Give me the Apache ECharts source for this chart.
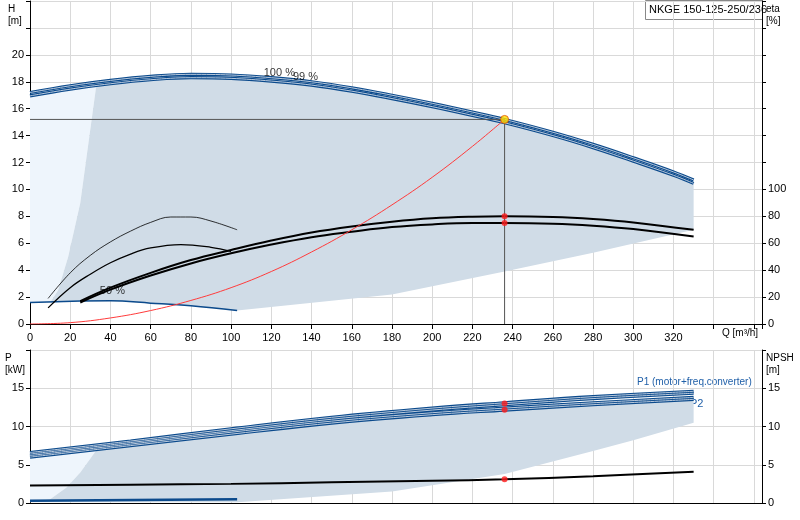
<!DOCTYPE html>
<html><head><meta charset="utf-8">
<script src="https://cdn.jsdelivr.net/npm/echarts@6/dist/echarts.min.js"></script>
<style>body{margin:0}#c{width:800px;height:520px}</style></head>
<body><div id="c"></div>
<script>
// ---- data ----
const head100 = [[0,17.2],[20,17.7],[40,18.1],[60,18.4],[80,18.55],[100,18.5],[120,18.3],[140,18.0],[160,17.55],[180,17.0],[200,16.4],[220,15.75],[236,15.2],[260,14.25],[280,13.35],[300,12.35],[320,11.3],[330,10.7]];
const head99 = [[0,16.95],[20,17.45],[40,17.85],[60,18.15],[80,18.3],[100,18.25],[120,18.05],[140,17.75],[160,17.3],[180,16.75],[200,16.15],[220,15.5],[236,14.95],[260,14.0],[280,13.1],[300,12.1],[320,11.05],[330,10.45]];
const headMin = [[0,1.6],[25,1.7],[40,1.72],[60,1.55],[80,1.35],[103,1.0]];
const lightArea = [[0,16.95],[20,17.45],[33,17.75],[25,9],[19,5],[14,2.5],[10,1.6],[0,1.6]];
const darkArea = [[33,17.75],[40,17.85],[60,18.15],[80,18.3],[100,18.25],[120,18.05],[140,17.75],[160,17.3],[180,16.75],[200,16.15],[220,15.5],[236,14.95],[260,14.0],[280,13.1],[300,12.1],[320,11.05],[330,10.45],[330,7.0],[280,5.3],[236,3.9],[180,2.2],[103,1.0],[80,1.35],[60,1.55],[40,1.72],[25,1.7],[10,1.6],[14,2.5],[19,5],[25,9]];
const eta100 = [[25,17],[40,27],[60,38],[80,47.5],[100,55],[120,62],[140,68],[160,72.5],[180,76],[200,78.5],[220,79.7],[236,80],[260,79.5],[280,78],[300,75.5],[330,70]];
const eta99 = [[25,16],[40,25.5],[60,36],[80,45],[100,52.5],[120,59],[140,64.5],[160,68.5],[180,72],[200,74],[220,75],[236,75],[260,74.5],[280,73],[300,70.5],[330,65]];
const etaLowA = [[9,19],[20,38],[30,51],[40,61],[50,69],[60,75.5],[70,79.5],[80,79.5],[90,76.5],[103,70]];
const etaLowB = [[9,12],[20,27],[30,37],[40,45.5],[50,52],[60,56.5],[75,59],[90,57],[100,54]];
const systemCurve = [[0,0],[20,0.1],[40,0.45],[60,1.0],[80,1.75],[100,2.7],[120,3.9],[140,5.35],[160,7.0],[180,8.85],[200,10.9],[220,13.2],[236,15.2]];
const dutyQ = 236, dutyH = 15.2, dutyEta = [80,75];
const p1 = [[0,6.6],[50,8.1],[100,9.7],[150,11.2],[200,12.4],[236,13.1],[280,13.9],[330,14.6]];
const p1b = [[0,6.4],[50,7.9],[100,9.45],[150,10.95],[200,12.15],[236,12.85],[280,13.65],[330,14.35]];
const p2 = [[0,6.2],[50,7.7],[100,9.25],[150,10.7],[200,11.8],[236,12.4],[280,13.1],[330,13.8]];
const p2b = [[0,6.0],[50,7.5],[100,9.0],[150,10.45],[200,11.55],[236,12.15],[280,12.85],[330,13.55]];
const pMin = [[0,0.3],[103,0.5]];
const pLight = [[0,6.0],[33,6.9],[25,4],[18,2],[10,0.5],[0,0.1]];
const pDark = [[33,6.9],[50,7.5],[100,9.0],[150,10.45],[200,11.55],[236,12.15],[280,12.85],[330,13.55],[330,10.5],[300,8.2],[280,6.8],[236,3.8],[180,1.5],[103,0.1],[0,0.1],[10,0.5],[18,2],[25,4]];
const npsh = [[0,2.3],[50,2.4],[100,2.5],[150,2.7],[200,2.9],[236,3.1],[280,3.5],[330,4.1]];
const dutyP = [13.0,12.2], dutyNpsh = 3.1;
const title = 'NKGE 150-125-250/236';

// ---- chart ----
const F = 'Liberation Sans, Arial, sans-serif';
const ch = echarts.init(document.getElementById('c'));
const grid = '#d9d9d9';
function poly(pts, color, xi, yi){
  return {type:'custom', xAxisIndex:xi, yAxisIndex:yi, silent:true, z:1,
    data:[pts[0]],
    renderItem:(p,api)=>({type:'polygon', shape:{points:pts.map(d=>api.coord(d))}, style:{fill:color}})};
}
function ln(d,color,w,xi,yi,z){return {type:'line',data:d,xAxisIndex:xi,yAxisIndex:yi,symbol:'none',smooth:0.4,lineStyle:{color:color,width:w},z:z||3,silent:true};}
function dbl(d,xi,yi){return [ln(d,'#0b4a8c',3.2,xi,yi,3), ln(d,'#b9c9dc',1,xi,yi,4)];}
const xAx = (gi,lab)=>({type:'value',gridIndex:gi,min:0,max:364,interval:20,
  axisLine:{show:true,lineStyle:{color:'#000'}},axisTick:{show:lab,lineStyle:{color:'#000'}},
  splitLine:{show:true,lineStyle:{color:grid}},
  axisLabel:{show:lab,color:'#000',fontFamily:F,fontSize:11,formatter:v=>v<=320?v:''}});
const yAx = (gi,max,iv,lim,pos)=>({type:'value',gridIndex:gi,min:0,max:max,interval:iv,position:pos,
  axisLine:{show:true,lineStyle:{color:'#000'}},axisTick:{show:true,length:4,lineStyle:{color:'#000'}},
  splitLine:{show:pos==='left',lineStyle:{color:grid}},
  axisLabel:{color:'#000',fontFamily:F,fontSize:11,margin:pos==='left'?6:6,formatter:v=>v<=lim?v:''}});
ch.setOption({
  animation:false,
  grid:[{left:30,right:38,top:1,bottom:196},{left:30,right:38,top:350,bottom:17}],
  xAxis:[xAx(0,true),xAx(1,false)],
  yAxis:[yAx(0,24,2,20,'left'),yAx(0,240,20,100,'right'),yAx(1,20,5,15,'left'),yAx(1,20,5,15,'right')],
  graphic:[
    {type:'text',left:8,top:3,style:{text:'H\n[m]',fill:'#000',font:'10px '+F,align:'center',lineHeight:12},x:0},
    {type:'text',left:766,top:3,style:{text:'eta\n[%]',fill:'#000',font:'10px '+F,lineHeight:12}},
    {type:'text',left:722,top:328,style:{text:'Q [m³/h]',fill:'#000',font:'10px '+F}},
    {type:'text',left:5,top:352,style:{text:'P\n[kW]',fill:'#000',font:'10px '+F,lineHeight:12}},
    {type:'text',left:766,top:352,style:{text:'NPSH\n[m]',fill:'#000',font:'10px '+F,lineHeight:12}},
    {type:'rect',left:645,top:0,shape:{width:117,height:19},style:{fill:'#fff',stroke:'#888'}},
    {type:'text',left:649,top:4,style:{text:title,fill:'#000',font:'11px '+F}},
    {type:'text',left:637,top:377,style:{text:'P1 (motor+freq.converter)',fill:'#1f5fa8',font:'10px '+F}},
    {type:'text',left:690,top:398,style:{text:'P2',fill:'#1f5fa8',font:'11px '+F}}
  ],
  series:[
    poly(lightArea,'#eef5fc',0,0), poly(darkArea,'#d0dce7',0,0),
    ...dbl(head100,0,0), ...dbl(head99,0,0),
    ln(headMin,'#0b4a8c',1.5,0,0),
    ln(eta100,'#000',2,0,1), ln(eta99,'#000',2,0,1),
    ln(etaLowA,'#000',0.8,0,1), ln(etaLowB,'#000',1.3,0,1),
    ln(systemCurve,'#ff3b3b',1,0,0,5),
    {type:'line',xAxisIndex:0,yAxisIndex:0,data:[[0,dutyH],[dutyQ,dutyH],[dutyQ,0]],symbol:'none',lineStyle:{color:'#555',width:1},z:5},
    {type:'scatter',xAxisIndex:0,yAxisIndex:0,data:[[dutyQ,dutyH]],symbolSize:8,itemStyle:{color:'#ffe000',borderColor:'#e05000',borderWidth:1},z:8},
    {type:'scatter',xAxisIndex:0,yAxisIndex:1,data:dutyEta.map(v=>[dutyQ,v]),symbolSize:6,itemStyle:{color:'#ff1a1a'},z:8},
    {type:'line',xAxisIndex:0,yAxisIndex:0,data:[],markPoint:{symbol:'none',data:[]}},
    {type:'scatter',xAxisIndex:0,yAxisIndex:0,data:[[120,18.6,'100 %'],[133,18.25,'99 %'],[37,2.35,'50 %']],symbolSize:0,
      label:{show:true,position:'inside',formatter:p=>p.data[2],color:'#000',fontFamily:F,fontSize:11,offset:[8,-1]},z:9},
    poly(pLight,'#eef5fc',1,2), poly(pDark,'#d0dce7',1,2),
    ...dbl(p1,1,2), ...dbl(p1b,1,2), ...dbl(p2,1,2), ...dbl(p2b,1,2),
    ln(pMin,'#0b4a8c',2.5,1,2),
    ln(npsh,'#000',2,1,3),
    {type:'scatter',xAxisIndex:1,yAxisIndex:2,data:dutyP.map(v=>[dutyQ,v]),symbolSize:6,itemStyle:{color:'#ff1a1a'},z:8},
    {type:'scatter',xAxisIndex:1,yAxisIndex:3,data:[[dutyQ,dutyNpsh]],symbolSize:6,itemStyle:{color:'#ff1a1a'},z:8}
  ]
});
</script></body></html>
